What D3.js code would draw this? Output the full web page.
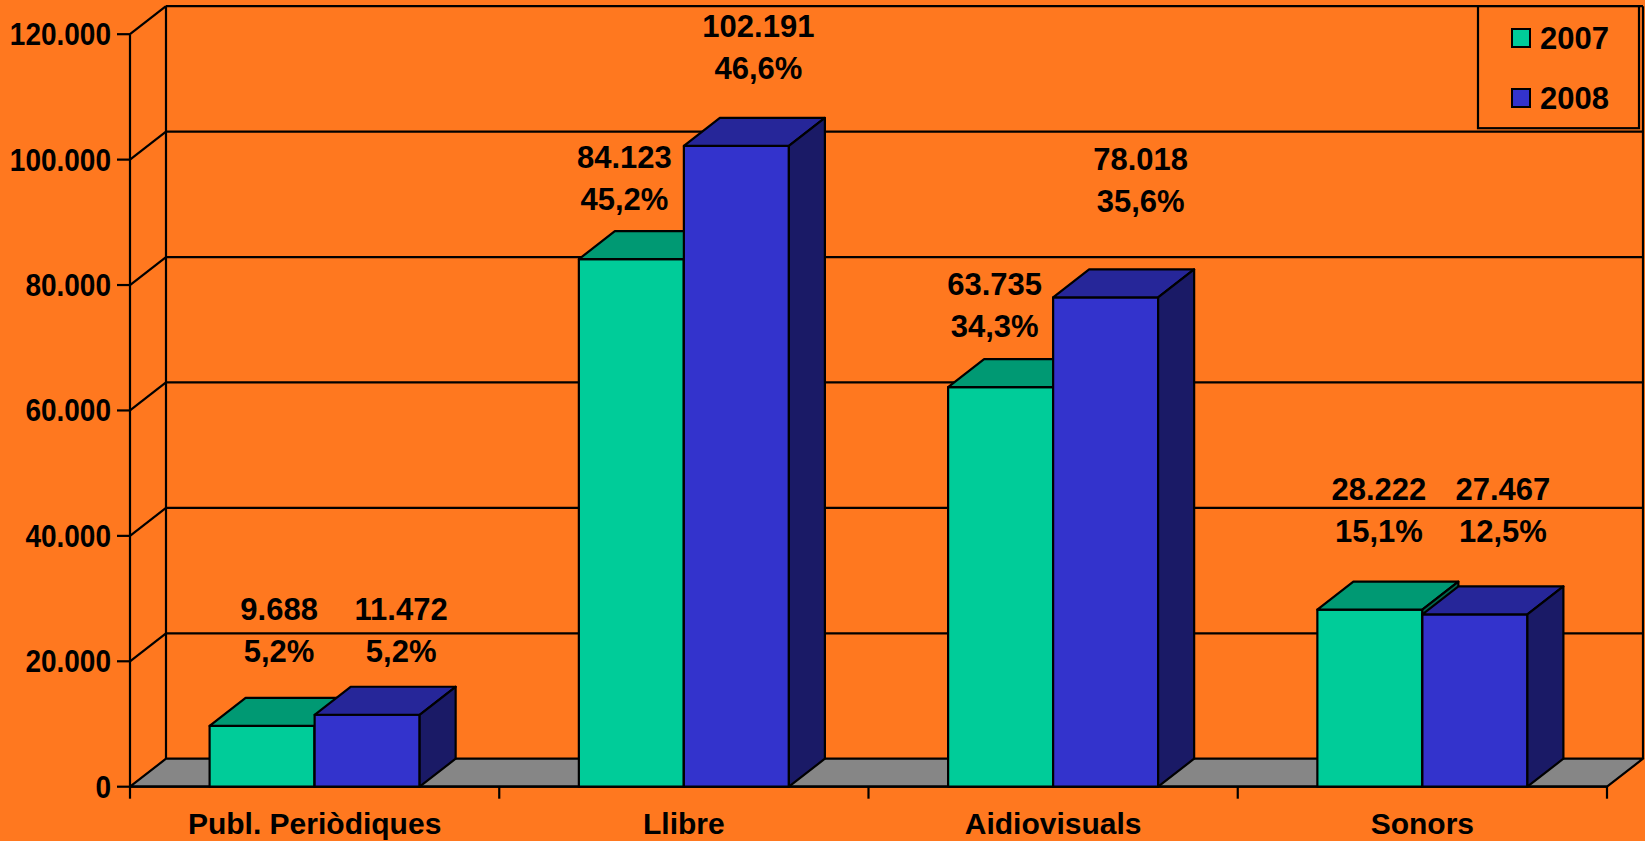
<!DOCTYPE html>
<meta charset="utf-8">
<style>
body { margin: 0; background: #ff781f; }
svg { display: block; }
text { font-family: "Liberation Sans", Arial, Helvetica, sans-serif; font-weight: bold; fill: #000; }
.tick-label { font-size: 28px; }
.cat-label { font-size: 30px; text-anchor: middle; }
.val-label { font-size: 31px; text-anchor: middle; }
.legend-label { font-size: 31px; }
.line { stroke: #000; stroke-width: 2.2px; fill: none; }
</style>
<svg width="1645" height="841"></svg>
<script src="https://cdnjs.cloudflare.com/ajax/libs/d3/7.8.5/d3.min.js"></script>
<script>

// data
var categories = ["Publ. Periòdiques", "Llibre", "Aidiovisuals", "Sonors"];
var seriesNames = ["2007", "2008"];
var values2007 = [9688, 84123, 63735, 28222];
var values2008 = [11472, 102191, 78018, 27467];
var pct2007 = [5.2, 45.2, 34.3, 15.1];
var pct2008 = [5.2, 46.6, 35.6, 12.5];
var yTicks = [0, 20000, 40000, 60000, 80000, 100000, 120000];

// layout
var colors = {
  "2007": { front: "#00cc99", top: "#009973", side: "#006b50" },
  "2008": { front: "#3333cc", top: "#262699", side: "#1a1a66" }
};
// labels were dragged by hand in the original chart: offset from the bar top
var labelNudge = {
  "2007": [[-1, -103], [-25, -88], [-24, -89], [-9, -107]],
  "2008": [[16, -92], [4, -106], [17, -125], [10, -112]]
};

var svg = d3.select("svg"),
    x0 = 130, x1 = 1607,
    yBase = 786.7, yTopPx = 34.2,
    dx = 36, dy = -28;

var locale = d3.formatLocale({ decimal: ",", thousands: ".", grouping: [3], currency: ["", ""] });
var fmtInt = locale.format(",d"),
    fmtPct = locale.format(",.1f");

var y = d3.scaleLinear().domain([0, 120000]).range([yBase, yTopPx]);
var x = d3.scaleBand().domain(categories).range([x0, x1]).padding(0);
var xs = d3.scaleBand().domain(seriesNames).range([0, x.bandwidth()])
    .paddingInner(0).paddingOuter(0.758);

var data = seriesNames.map(function(s, si) {
  var vals = si === 0 ? values2007 : values2008,
      pcts = si === 0 ? pct2007 : pct2008;
  return categories.map(function(c, ci) {
    return { series: s, cat: c, ci: ci, value: vals[ci], pct: pcts[ci] };
  });
});

// back wall + side wall gridlines
var grid = svg.append("g");
grid.selectAll("line.h").data(yTicks.slice(1)).enter().append("line")
    .attr("class", "line")
    .attr("x1", x0 + dx).attr("x2", x1 + dx)
    .attr("y1", function(d) { return y(d) + dy; })
    .attr("y2", function(d) { return y(d) + dy; });
grid.selectAll("line.d").data(yTicks.slice(1)).enter().append("line")
    .attr("class", "line")
    .attr("x1", x0).attr("x2", x0 + dx)
    .attr("y1", function(d) { return y(d); })
    .attr("y2", function(d) { return y(d) + dy; });
grid.append("line").attr("class", "line")
    .attr("x1", x0 + dx).attr("x2", x0 + dx)
    .attr("y1", y(120000) + dy).attr("y2", yBase + dy);
grid.append("line").attr("class", "line")
    .attr("x1", x1 + dx).attr("x2", x1 + dx)
    .attr("y1", y(120000) + dy).attr("y2", yBase + dy);

// floor
svg.append("polygon")
    .attr("points", [[x0, yBase], [x1, yBase], [x1 + dx, yBase + dy], [x0 + dx, yBase + dy]].join(" "))
    .attr("fill", "#868686").attr("stroke", "#000").attr("stroke-width", 2.2)
    .attr("stroke-linejoin", "round");

// y axis
svg.append("line").attr("class", "line")
    .attr("x1", x0).attr("x2", x0).attr("y1", y(120000)).attr("y2", yBase);
svg.selectAll("line.ytick").data(yTicks).enter().append("line")
    .attr("class", "line")
    .attr("x1", x0 - 13).attr("x2", x0)
    .attr("y1", function(d) { return y(d); })
    .attr("y2", function(d) { return y(d); });
// tick labels in the original are a little taller than wide
svg.selectAll("text.tick-label").data(yTicks).enter().append("text")
    .attr("class", "tick-label")
    .attr("transform", function(d) { return "translate(" + (x0 - 19) + "," + y(d) + ") scale(1,1.09)"; })
    .attr("dy", "0.36em")
    .attr("text-anchor", "end")
    .text(function(d) { return fmtInt(d); });

// x axis
svg.append("line").attr("class", "line")
    .attr("x1", x0).attr("x2", x1).attr("y1", yBase).attr("y2", yBase);
var xTicks = categories.map(function(c) { return x(c); }).concat([x1]);
svg.selectAll("line.xtick").data(xTicks).enter().append("line")
    .attr("class", "line")
    .attr("x1", function(d) { return d; }).attr("x2", function(d) { return d; })
    .attr("y1", yBase).attr("y2", yBase + 12);
svg.selectAll("text.cat-label").data(categories).enter().append("text")
    .attr("class", "cat-label")
    .attr("x", function(d) { return x(d) + x.bandwidth() / 2; })
    .attr("y", 834)
    .text(function(d) { return d; });

// 3d bars, drawn per category so the 2008 bar covers the 2007 side
var bw = xs.bandwidth();
categories.forEach(function(c, ci) {
  seriesNames.forEach(function(s, si) {
    var d = data[si][ci],
        L = x(c) + xs(s), R = L + bw, t = y(d.value),
        col = colors[s];
    var g = svg.append("g")
        .attr("stroke", "#000").attr("stroke-width", 2.2).attr("stroke-linejoin", "round");
    g.append("rect")
        .attr("x", L).attr("y", t).attr("width", bw).attr("height", yBase - t)
        .attr("fill", col.front);
    g.append("polygon")
        .attr("points", [[L, t], [L + dx, t + dy], [R + dx, t + dy], [R, t]].join(" "))
        .attr("fill", col.top);
    g.append("polygon")
        .attr("points", [[R, t], [R + dx, t + dy], [R + dx, yBase + dy], [R, yBase]].join(" "))
        .attr("fill", col.side);
  });
});

// value labels
data.forEach(function(rows) {
  rows.forEach(function(d) {
    var n = labelNudge[d.series][d.ci],
        cx = x(d.cat) + xs(d.series) + bw / 2 + dx / 2 + n[0],
        cy = y(d.value) + dy / 2 + n[1];
    var t = svg.append("text").attr("class", "val-label");
    t.append("tspan").attr("x", cx).attr("y", cy).attr("dy", "0.36em").text(fmtInt(d.value));
    t.append("tspan").attr("x", cx).attr("y", cy + 42).attr("dy", "0.36em").text(fmtPct(d.pct) + "%");
  });
});

// legend
var lg = svg.append("g");
lg.append("rect")
    .attr("x", 1478).attr("y", y(120000) + dy).attr("width", 161).attr("height", 122)
    .attr("fill", "#ff781f").attr("stroke", "#000").attr("stroke-width", 2.2);
seriesNames.forEach(function(s, i) {
  var cy = 38 + i * 60;
  lg.append("rect")
      .attr("x", 1512).attr("y", cy - 9).attr("width", 18).attr("height", 18)
      .attr("fill", colors[s].front).attr("stroke", "#000").attr("stroke-width", 2);
  lg.append("text").attr("class", "legend-label")
      .attr("x", 1540).attr("y", cy).attr("dy", "0.36em")
      .text(s);
});

</script>
